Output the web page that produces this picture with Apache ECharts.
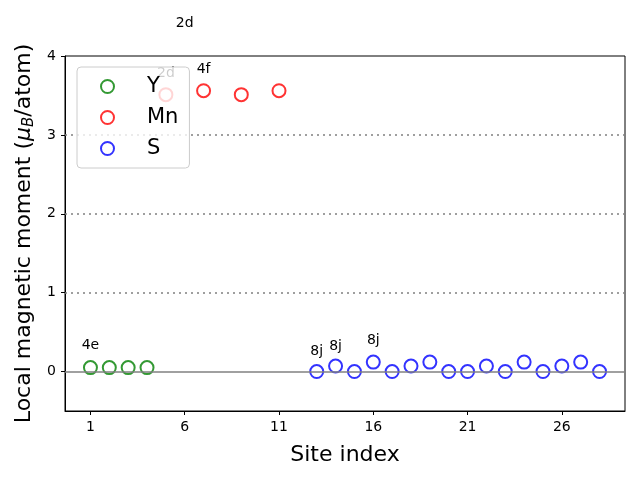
<!DOCTYPE html>
<html><head><meta charset="utf-8">
<script src="https://cdn.jsdelivr.net/npm/echarts@6/dist/echarts.min.js"></script>
<style>html,body{margin:0;padding:0;background:#fff}#c{width:640px;height:480px}</style>
</head><body><div id="c"></div>
<script>
const ySites = [1, 2, 3, 4];
const yValues = [0.05, 0.05, 0.05, 0.05];
const mnSites = [5, 7, 9, 11];
const mnValues = [3.51, 3.56, 3.51, 3.56];
const sSites = [13,14,15,16,17,18,19,20,21,22,23,24,25,26,27,28];
const sValues = [0, 0.07, 0, 0.12, 0, 0.07, 0.12, 0, 0, 0.07, 0, 0.12, 0, 0.07, 0.12, 0];
const annX = [1, 6, 5, 7, 13, 14, 16];
const annY = [0.33, 4.42, 3.78, 3.83, 0.26, 0.32, 0.39];
const annText = ['4e', '2d', '2d', '4f', '8j', '8j', '8j'];
const xTicks = [1, 6, 11, 16, 21, 26];
const yTicks = [0, 1, 2, 3, 4];
const dottedLines = [1, 2, 3];
const zeroLine = 0;

const font = 'DejaVu Sans';
const zip = (a, b) => a.map((v, i) => [v, b[i]]);
function sc(name, sites, vals, color) {
  return {
    name, type: 'scatter', data: zip(sites, vals),
    symbol: 'emptyCircle', symbolSize: 13,
    itemStyle: { color: color, borderColor: color, borderWidth: 1.3 },
    emphasis: { disabled: true }, z: 3
  };
}
const chart = echarts.init(document.getElementById('c'), null, { renderer: 'canvas' });
chart.setOption({
  animation: false,
  textStyle: { fontFamily: font },
  grid: { left: 65, right: 15, top: 56, bottom: 69, show: true, borderColor: '#000', borderWidth: 1, backgroundColor: 'transparent' },
  legend: {
    orient: 'vertical', left: 77, top: 67,
    data: ['Y', 'Mn', 'S'].map(n => ({ name: n, icon: 'emptyCircle' })),
    itemWidth: 13, itemHeight: 13, itemGap: 10,
    padding: [9, 11, 9, 23],
    backgroundColor: 'rgba(255,255,255,0.8)',
    borderColor: '#cccccc', borderWidth: 1, borderRadius: 4,
    textStyle: { fontSize: 21, fontFamily: font, color: '#000', padding: [0, 0, 0, 28] },
    itemStyle: { borderWidth: 1.3 },
    z: 10
  },
  xAxis: {
    type: 'value', min: -0.35, max: 29.35,
    name: 'Site index', nameLocation: 'middle', nameGap: 33,
    nameTextStyle: { fontSize: 22, color: '#000', fontFamily: font },
    axisLine: { show: true, onZero: false, lineStyle: { color: '#000' } },
    axisTick: { show: true, customValues: xTicks, length: 4, lineStyle: { color: '#000' } },
    axisLabel: { customValues: xTicks, fontSize: 14, color: '#000', margin: 9, fontFamily: font },
    splitLine: { show: false }
  },
  yAxis: {
    type: 'value', min: -0.5, max: 4,
    name: '{n|Local magnetic moment (}{i|μ}{s|B}{n|/atom)}',
    nameLocation: 'middle', nameGap: 28, nameRotate: 90,
    nameTextStyle: {
      color: '#000', fontFamily: font, fontSize: 22,
      rich: {
        n: { fontSize: 22, fontFamily: font, color: '#000' },
        i: { fontSize: 22, fontFamily: font, fontStyle: 'italic', color: '#000' },
        s: { fontSize: 15, fontFamily: font, fontStyle: 'italic', color: '#000', verticalAlign: 'bottom', padding: [8, 0, 0, 0] }
      }
    },
    axisLine: { show: true, onZero: false, lineStyle: { color: '#000' } },
    axisTick: { show: true, customValues: yTicks, length: 4, lineStyle: { color: '#000' } },
    axisLabel: { customValues: yTicks, fontSize: 14, color: '#000', margin: 9, fontFamily: font },
    splitLine: { show: false }
  },
  series: [
    sc('Y', ySites, yValues, '#008000'),
    sc('Mn', mnSites, mnValues, '#ff0000'),
    sc('S', sSites, sValues, '#0000ff'),
    {
      name: 'lines', type: 'line', data: [], silent: true, z: 1,
      markLine: {
        silent: true, symbol: 'none', animation: false,
        label: { show: false },
        data: dottedLines.map(v => ({ yAxis: v, lineStyle: { type: [2, 4], color: '#808080', width: 1.5 } }))
          .concat([{ yAxis: zeroLine, lineStyle: { type: 'solid', color: '#808080', width: 1.5 } }])
      }
    },
    {
      name: 'ann', type: 'scatter', symbol: 'circle', symbolSize: 1, clip: false, silent: true, z: 2,
      itemStyle: { opacity: 0 },
      data: annX.map((x, i) => ({ value: [x, annY[i]], label: { formatter: annText[i] } })),
      label: { show: true, position: 'inside', fontSize: 14, color: '#000', fontFamily: font, opacity: 1 }
    }
  ]
});
</script></body></html>
